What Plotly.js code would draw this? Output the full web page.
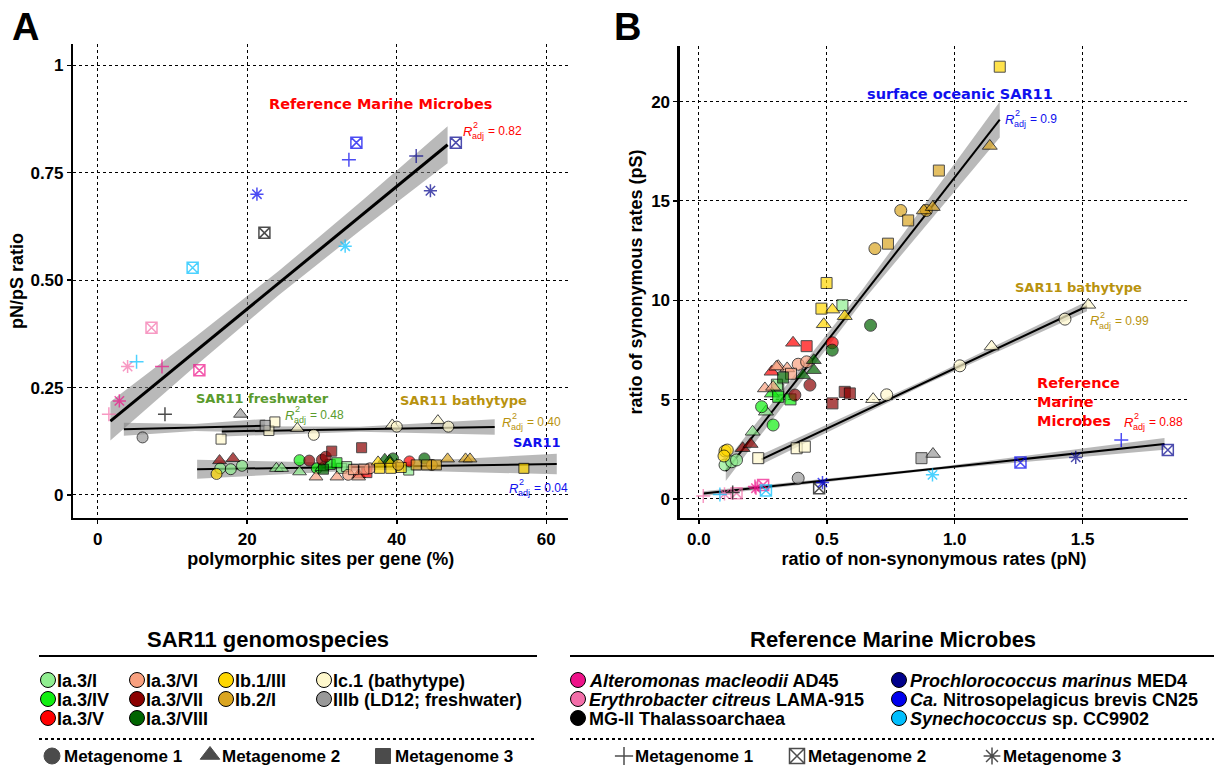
<!DOCTYPE html>
<html><head><meta charset="utf-8">
<script src="https://cdn.plot.ly/plotly-3.0.1.min.js"></script>
<style>html,body{margin:0;padding:0;background:#fff}#chart{width:1216px;height:766px}</style>
</head><body><div id="chart"></div>
<script>
// ===== Panel A rows: [polymorphic sites per gene (%), pN/pS ratio, metagenome] =====
const ia3I_A    = [[16.4,0.062,1],[17.8,0.060,1],[19.3,0.068,1],[23.9,0.062,2],[24.6,0.062,2],[27.0,0.054,2],[32.6,0.062,3],[33.3,0.066,3],[41.6,0.058,3]];
const ia3IV_A   = [[27.0,0.081,1],[29.3,0.062,1],[30.0,0.064,2],[31.1,0.071,3],[32.0,0.075,3]];
const ia3V_A    = [[41.7,0.078,1],[34.9,0.047,2],[36.0,0.052,3]];
const ia3VI_A   = [[36.4,0.062,1],[33.5,0.047,1],[29.2,0.042,2],[32.0,0.042,2],[34.9,0.042,2],[34.2,0.059,3],[35.6,0.060,3]];
const ia3VII_A  = [[28.3,0.080,1],[30.0,0.082,1],[30.5,0.089,1],[16.3,0.080,2],[18.1,0.085,2],[31.3,0.102,3],[35.3,0.110,3]];
const ia3VIII_A = [[39.5,0.085,1],[43.7,0.085,1],[38.4,0.083,2],[39.0,0.080,2],[30.2,0.060,3]];
const ib1III_A  = [[15.9,0.049,1],[37.5,0.077,2],[39.1,0.074,2],[37.7,0.062,3],[39.2,0.062,3],[40.6,0.064,3],[57.0,0.062,3]];
const ib2I_A    = [[40.2,0.070,1],[44.7,0.070,1],[42.6,0.070,3],[44.0,0.070,3],[45.3,0.070,3],[46.8,0.084,2],[49.2,0.084,2],[49.8,0.084,2]];
const ic1_A     = [[16.5,0.130,3],[22.9,0.150,3],[23.7,0.170,3],[26.7,0.155,2],[28.9,0.140,1],[39.4,0.163,2],[40.0,0.159,1],[45.5,0.173,2],[46.9,0.159,1]];
const iiib_A    = [[6.0,0.134,1],[19.1,0.188,2],[22.4,0.162,3]];
const altero_A  = [[8.6,0.299,1],[13.6,0.290,2],[2.9,0.219,3]];
const eryth_A   = [[1.5,0.188,1],[7.2,0.389,2],[4.0,0.299,3]];
const mg2_A     = [[9.0,0.188,1],[22.3,0.610,2]];
const prochl_A  = [[42.6,0.789,1],[47.9,0.820,2],[44.5,0.708,3]];
const nitro_A   = [[33.6,0.780,1],[34.6,0.820,2],[21.3,0.700,3]];
const syn_A     = [[5.2,0.310,1],[12.7,0.529,2],[33.1,0.579,3]];

// ===== Panel B rows: [pN, pS, metagenome] =====
const ia3I_B    = [[0.102,1.71,1],[0.128,1.87,1],[0.147,1.96,1],[0.210,3.38,2],[0.262,4.39,2],[0.310,5.51,3],[0.305,5.75,3],[0.561,9.75,3]];
const ia3IV_B   = [[0.245,4.64,1],[0.290,3.72,1],[0.285,5.30,2],[0.310,5.14,3],[0.358,5.01,3]];
const ia3V_B    = [[0.521,7.86,1],[0.368,7.86,2],[0.284,6.40,2],[0.421,7.69,3]];
const ia3VI_B   = [[0.388,6.78,1],[0.421,6.90,1],[0.310,6.68,2],[0.345,6.57,2],[0.258,5.56,2],[0.290,5.64,2],[0.303,6.65,2],[0.360,6.30,3]];
const ia3VII_B  = [[0.375,5.23,1],[0.434,5.73,1],[0.171,2.55,2],[0.202,2.76,2],[0.522,4.81,3],[0.570,5.39,3],[0.590,5.31,3]];
const ia3VIII_B = [[0.671,8.74,1],[0.521,7.49,1],[0.449,6.98,2],[0.449,6.48,2],[0.407,6.23,2],[0.329,6.11,3]];
const ib1III_B  = [[0.102,2.41,1],[0.111,2.46,1],[0.098,2.16,1],[0.522,9.53,2],[0.570,9.20,2],[0.488,8.79,2],[0.499,10.87,3],[0.479,9.58,3],[1.176,21.76,3]];
const ib2I_B    = [[0.889,14.52,1],[0.789,14.52,1],[0.688,12.60,1],[1.137,17.77,2],[0.879,14.52,2],[0.914,14.69,2],[0.938,16.53,3],[0.818,14.02,3],[0.739,12.85,3]];
const ic1_B     = [[0.232,2.05,3],[0.382,2.55,3],[0.414,2.63,3],[0.681,5.02,2],[0.734,5.24,1],[1.020,6.70,1],[1.144,7.67,2],[1.431,9.05,1],[1.522,9.77,2]];
const iiib_B    = [[0.388,1.04,1],[0.915,2.26,2],[0.870,2.05,3]];
const altero_B  = [[0.219,0.62,1],[0.251,0.70,2],[0.223,0.54,3]];
const eryth_B   = [[0.017,0.15,1],[0.147,0.29,2],[0.100,0.25,3]];
const mg2_B     = [[0.132,0.32,1],[0.470,0.54,2]];
const prochl_B  = [[1.833,2.46,2],[1.473,2.09,3]];
const nitro_B   = [[1.651,2.96,1],[1.257,1.83,2],[0.483,0.82,3]];
const syn_B     = [[0.082,0.22,1],[0.262,0.42,2],[0.913,1.21,3]];

// ===== Regression fits: x, fitted y, half-width of the band =====
const fitA_ref_x   = [1.7, 13.0, 24.2, 35.5, 46.8];
const fitA_ref_y   = [0.172, 0.333, 0.493, 0.654, 0.815];
const fitA_ref_hw  = [0.045, 0.034, 0.028, 0.033, 0.043];
const fitA_fresh_x = [3.5, 13.0, 22.4];
const fitA_fresh_y = [0.153, 0.157, 0.161];
const fitA_fresh_hw= [0.015, 0.008, 0.016];
const fitA_bathy_x = [16.6, 35.0, 53.1];
const fitA_bathy_y = [0.148, 0.153, 0.158];
const fitA_bathy_hw= [0.012, 0.006, 0.018];
const fitA_sar_x   = [13.3, 37.0, 61.4];
const fitA_sar_y   = [0.060, 0.066, 0.072];
const fitA_sar_hw  = [0.022, 0.007, 0.024];
const fitB_surf_x  = [0.105, 0.640, 1.176];
const fitB_surf_y  = [1.40, 10.25, 19.10];
const fitB_surf_hw = [0.50, 0.30, 0.90];
const fitB_bathy_x = [0.245, 0.880, 1.517];
const fitB_bathy_y = [1.99, 5.85, 9.70];
const fitB_bathy_hw= [0.25, 0.12, 0.25];
const fitB_ref_x   = [0.017, 0.920, 1.820];
const fitB_ref_y   = [0.27, 1.52, 2.77];
const fitB_ref_hw  = [0.12, 0.06, 0.30];

// ===== Axis ticks =====
const xTicksA = [0, 20, 40, 60];
const yTicksA = [0, 0.25, 0.5, 0.75, 1];
const yTickTextA = ['0', '0.25', '0.50', '0.75', '1'];
const xTicksB = [0, 0.5, 1.0, 1.5];
const xTickTextB = ['0.0', '0.5', '1.0', '1.5'];
const yTicksB = [0, 5, 10, 15, 20];

// ===== Legend categories =====
const sarNames  = ['Ia.3/I','Ia.3/IV','Ia.3/V','Ia.3/VI','Ia.3/VII','Ia.3/VIII','Ib.1/III','Ib.2/I','Ic.1 (bathytype)','IIIb (LD12; freshwater)'];
const sarColors = ['#90ee90','#11ee11','#ff0000','#f9a07f','#8b0000','#006400','#ffd700','#daa520','#fff8cc','#999999'];
const refNames  = ['<i>Alteromonas macleodii</i> AD45','<i>Erythrobacter citreus</i> LAMA-915','MG-II Thalassoarchaea','<i>Prochlorococcus marinus</i> MED4','<i>Ca.</i> Nitrosopelagicus brevis CN25','<i>Synechococcus</i> sp. CC9902'];
const refColors = ['#ee1289','#f36ea9','#000000','#00008b','#0000ee','#00bfff'];
const metaNames = ['Metagenome 1','Metagenome 2','Metagenome 3'];

const sarA = [ia3I_A, ia3IV_A, ia3V_A, ia3VI_A, ia3VII_A, ia3VIII_A, ib1III_A, ib2I_A, ic1_A, iiib_A];
const sarB = [ia3I_B, ia3IV_B, ia3V_B, ia3VI_B, ia3VII_B, ia3VIII_B, ib1III_B, ib2I_B, ic1_B, iiib_B];
const refA = [altero_A, eryth_A, mg2_A, prochl_A, nitro_A, syn_A];
const refB = [altero_B, eryth_B, mg2_B, prochl_B, nitro_B, syn_B];

const W = 1216, H = 766;
const PX = p => p / W, PY = p => 1 - p / H;
const SAR_SYM = ['circle','triangle-up','square'];
const REF_SYM = ['cross-thin-open','square-x-open','asterisk-open'], REF_SIZE = [10, 11, 11];

function sarTrace(rows, color, xa, ya, sizes) {
  return {type:'scatter', mode:'markers', xaxis:xa, yaxis:ya, showlegend:false, hoverinfo:'skip',
    x: rows.map(r => r[0]), y: rows.map(r => r[1]),
    marker:{color:color, symbol: rows.map(r => SAR_SYM[r[2]-1]), size: rows.map(r => sizes[r[2]-1]), line:{color:'#000', width:1}}};
}
function refTrace(rows, color, xa, ya) {
  return {type:'scatter', mode:'markers', xaxis:xa, yaxis:ya, showlegend:false, hoverinfo:'skip',
    x: rows.map(r => r[0]), y: rows.map(r => r[1]),
    marker:{color:color, symbol: rows.map(r => REF_SYM[r[2]-1]), size: rows.map(r => REF_SIZE[r[2]-1]), line:{color:color, width:1.5}}};
}
function bandTrace(xs, ys, hw, xa, ya) {
  const up = ys.map((v, i) => v + hw[i]), lo = ys.map((v, i) => v - hw[i]);
  return {type:'scatter', mode:'lines', xaxis:xa, yaxis:ya, showlegend:false, hoverinfo:'skip',
    x: xs.concat(xs.slice().reverse()), y: up.concat(lo.slice().reverse()),
    fill:'toself', fillcolor:'rgba(128,128,128,0.55)', line:{width:0}};
}
function lineTrace(xs, ys, xa, ya, w) {
  return {type:'scatter', mode:'lines', xaxis:xa, yaxis:ya, showlegend:false, hoverinfo:'skip',
    x: xs, y: ys, line:{color:'#000', width:w}};
}

const traces = [];
traces.push(bandTrace(fitA_fresh_x, fitA_fresh_y, fitA_fresh_hw, 'x', 'y'));
traces.push(bandTrace(fitA_bathy_x, fitA_bathy_y, fitA_bathy_hw, 'x', 'y'));
traces.push(bandTrace(fitA_sar_x, fitA_sar_y, fitA_sar_hw, 'x', 'y'));
traces.push(bandTrace(fitA_ref_x, fitA_ref_y, fitA_ref_hw, 'x', 'y'));
traces.push(bandTrace(fitB_surf_x, fitB_surf_y, fitB_surf_hw, 'x2', 'y2'));
traces.push(bandTrace(fitB_bathy_x, fitB_bathy_y, fitB_bathy_hw, 'x2', 'y2'));
traces.push(bandTrace(fitB_ref_x, fitB_ref_y, fitB_ref_hw, 'x2', 'y2'));
traces.push(lineTrace(fitA_fresh_x, fitA_fresh_y, 'x', 'y', 2));
traces.push(lineTrace(fitA_bathy_x, fitA_bathy_y, 'x', 'y', 2));
traces.push(lineTrace(fitA_sar_x, fitA_sar_y, 'x', 'y', 2));
traces.push(lineTrace(fitA_ref_x, fitA_ref_y, 'x', 'y', 3));
traces.push(lineTrace(fitB_surf_x, fitB_surf_y, 'x2', 'y2', 2));
traces.push(lineTrace(fitB_bathy_x, fitB_bathy_y, 'x2', 'y2', 2));
traces.push(lineTrace(fitB_ref_x, fitB_ref_y, 'x2', 'y2', 2));
sarA.forEach((rows, i) => traces.push(sarTrace(rows, sarColors[i], 'x', 'y', [11, 12, 10])));
sarB.forEach((rows, i) => traces.push(sarTrace(rows, sarColors[i], 'x2', 'y2', [12, 13, 11])));
refA.forEach((rows, i) => traces.push(refTrace(rows, refColors[i], 'x', 'y')));
refB.forEach((rows, i) => traces.push(refTrace(rows, refColors[i], 'x2', 'y2')));

// ===== Legend (drawn on a pixel-based helper axis) =====
const annotations = [];
const shapes = [];
const legFont = {family:'Liberation Sans, Arial', size:18, color:'#000', weight:'bold'};
const metaFont = {family:'Liberation Sans, Arial', size:17, color:'#000', weight:'bold'};
const sarColX = [48, 137, 226, 324], rowY = [680, 699, 718];
const sarCell = [[0,0],[0,1],[0,2],[1,0],[1,1],[1,2],[2,0],[2,1],[3,0],[3,1]];
const legSarX = [], legSarY = [];
sarCell.forEach((c, i) => {
  legSarX.push(sarColX[c[0]]); legSarY.push(rowY[c[1]]);
  annotations.push({xref:'paper', yref:'paper', x:PX(sarColX[c[0]] + 7), y:PY(rowY[c[1]] + 1), xanchor:'left', yanchor:'middle',
    text:sarNames[i], showarrow:false, font:legFont});
});
traces.push({type:'scatter', mode:'markers', xaxis:'x3', yaxis:'y3', showlegend:false, hoverinfo:'skip',
  x:legSarX, y:legSarY, marker:{symbol:'circle', size:15, color:sarColors, line:{color:'#000', width:1}}});
const metaLX = [52, 210, 383];
traces.push({type:'scatter', mode:'markers', xaxis:'x3', yaxis:'y3', showlegend:false, hoverinfo:'skip',
  x:metaLX, y:[756,755,756], marker:{symbol:SAR_SYM, size:[16,17,15], color:'#000', line:{color:'#000', width:1}}});
metaNames.forEach((t, i) => annotations.push({xref:'paper', yref:'paper', x:PX(metaLX[i] + 10), y:PY(756), xanchor:'left', yanchor:'middle',
  text:t, showarrow:false, font:metaFont}));
annotations.push({xref:'paper', yref:'paper', x:PX(268), y:PY(639), xanchor:'center', yanchor:'middle', text:'SAR11 genomospecies',
  showarrow:false, font:Object.assign({}, legFont, {size:22})});
shapes.push({type:'line', xref:'paper', yref:'paper', x0:PX(39), x1:PX(537), y0:PY(656), y1:PY(656), line:{color:'#000', width:2}});
shapes.push({type:'line', xref:'paper', yref:'paper', x0:PX(39), x1:PX(537), y0:PY(739), y1:PY(739), line:{color:'#000', width:2, dash:'dot'}});

const refColX = [578, 899];
const refCell = [[0,0],[0,1],[0,2],[1,0],[1,1],[1,2]];
const legRefX = [], legRefY = [];
refCell.forEach((c, i) => {
  legRefX.push(refColX[c[0]]); legRefY.push(rowY[c[1]]);
  annotations.push({xref:'paper', yref:'paper', x:PX(refColX[c[0]] + 9), y:PY(rowY[c[1]] + 1), xanchor:'left', yanchor:'middle',
    text:refNames[i], showarrow:false, font:legFont});
});
traces.push({type:'scatter', mode:'markers', xaxis:'x3', yaxis:'y3', showlegend:false, hoverinfo:'skip',
  x:legRefX, y:legRefY, marker:{symbol:'circle', size:15, color:refColors, line:{color:'#000', width:1}}});
const metaRX = [624, 797, 992];
traces.push({type:'scatter', mode:'markers', xaxis:'x3', yaxis:'y3', showlegend:false, hoverinfo:'skip',
  x:metaRX, y:[756,756,756], marker:{symbol:REF_SYM, size:[13,15,14], color:'#000', line:{color:'#000', width:1.5}}});
metaNames.forEach((t, i) => annotations.push({xref:'paper', yref:'paper', x:PX(metaRX[i] + 9), y:PY(756), xanchor:'left', yanchor:'middle',
  text:t, showarrow:false, font:metaFont}));
annotations.push({xref:'paper', yref:'paper', x:PX(893), y:PY(639), xanchor:'center', yanchor:'middle', text:'Reference Marine Microbes',
  showarrow:false, font:Object.assign({}, legFont, {size:22})});
shapes.push({type:'line', xref:'paper', yref:'paper', x0:PX(570), x1:PX(1214), y0:PY(656), y1:PY(656), line:{color:'#000', width:2}});
shapes.push({type:'line', xref:'paper', yref:'paper', x0:PX(570), x1:PX(1214), y0:PY(739), y1:PY(739), line:{color:'#000', width:2, dash:'dot'}});

// ===== In-plot labels =====
function label(xp, yp, text, color, size, anchor) {
  annotations.push({xref:'paper', yref:'paper', x:PX(xp), y:PY(yp), xanchor:anchor || 'center', yanchor:'middle',
    text:text, showarrow:false, align:'left', font:{family:'DejaVu Sans', size:size, color:color, weight:'bold'}});
}
function r2(xp, yp, val, color) {
  const f = (s) => ({family:'Liberation Sans, Arial', size:s, color:color});
  annotations.push({xref:'paper', yref:'paper', x:PX(xp), y:PY(yp), xanchor:'left', yanchor:'middle', text:'<i>R</i>', showarrow:false, font:f(13)});
  annotations.push({xref:'paper', yref:'paper', x:PX(xp+10), y:PY(yp-6), xanchor:'left', yanchor:'middle', text:'2', showarrow:false, font:f(9)});
  annotations.push({xref:'paper', yref:'paper', x:PX(xp+9), y:PY(yp+5), xanchor:'left', yanchor:'middle', text:'adj', showarrow:false, font:f(9)});
  annotations.push({xref:'paper', yref:'paper', x:PX(xp+25), y:PY(yp), xanchor:'left', yanchor:'middle', text:'= ' + val, showarrow:false, font:f(12)});
}
const RED = '#ff0000', GREEN = '#5a9b2d', GOLD = '#b8920e', BLUE = '#1010ee';
label(380, 104, 'Reference Marine Microbes', RED, 14.5);
r2(461, 131, '0.82', RED);
label(262, 398, 'SAR11 freshwater', GREEN, 13);
r2(283, 415, '0.48', GREEN);
label(463, 400, 'SAR11 bathytype', GOLD, 13);
r2(500, 422, '0.40', GOLD);
label(537, 443, 'SAR11', BLUE, 13);
r2(507, 488, '0.04', BLUE);
label(960, 94, 'surface oceanic SAR11', BLUE, 14.5);
r2(1003, 119, '0.9', BLUE);
label(1078, 287, 'SAR11 bathytype', GOLD, 13);
r2(1088, 321, '0.99', GOLD);
label(1035, 402, 'Reference<br>Marine<br>Microbes', RED, 14.5, 'left');
r2(1122, 422, '0.88', RED);
annotations.push({xref:'paper', yref:'paper', x:PX(25), y:PY(27), xanchor:'center', yanchor:'middle', text:'A', showarrow:false,
  font:{family:'Liberation Sans, Arial', size:38, color:'#000', weight:'bold'}});
annotations.push({xref:'paper', yref:'paper', x:PX(627), y:PY(27), xanchor:'center', yanchor:'middle', text:'B', showarrow:false,
  font:{family:'Liberation Sans, Arial', size:38, color:'#000', weight:'bold'}});

const tickFont = {family:'Liberation Sans, Arial', size:17, color:'#000', weight:'bold'};
const titleFont = {family:'Liberation Sans, Arial', size:18, color:'#000', weight:'bold'};
const axCommon = {showgrid:true, gridcolor:'#000', griddash:'dot', gridwidth:1, zeroline:false, showline:true, linecolor:'#000',
  linewidth:2.5, ticks:'outside', ticklen:4, tickwidth:1.5, tickcolor:'#000', tickfont:tickFont, tickmode:'array', fixedrange:true};

const layout = {
  width:W, height:H, margin:{l:0, r:0, t:0, b:0}, paper_bgcolor:'#fff', plot_bgcolor:'rgba(0,0,0,0)', showlegend:false,
  xaxis: Object.assign({}, axCommon, {domain:[0.0604, 0.4671], range:[-3.24, 62.9], anchor:'y', tickvals:xTicksA,
    title:{text:'polymorphic sites per gene (%)', font:titleFont, standoff:5}}),
  yaxis: Object.assign({}, axCommon, {domain:[0.3238, 0.9426], range:[-0.0535, 1.0496], anchor:'x', tickvals:yTicksA, ticktext:yTickTextA,
    title:{text:'pN/pS ratio', font:titleFont, standoff:2}}),
  xaxis2: Object.assign({}, axCommon, {domain:[0.5592, 0.9770], range:[-0.074, 1.912], anchor:'y2', tickvals:xTicksB, ticktext:xTickTextB,
    title:{text:'ratio of non-synonymous rates (pN)', font:titleFont, standoff:5}}),
  yaxis2: Object.assign({}, axCommon, {domain:[0.3238, 0.9399], range:[-0.96, 22.8], anchor:'x2', tickvals:yTicksB,
    title:{text:'ratio of synonymous rates (pS)', font:titleFont, standoff:4}}),
  xaxis3: {domain:[0, 1], range:[0, W], anchor:'y3', visible:false, fixedrange:true},
  yaxis3: {domain:[0, 146/H], range:[H, 620], anchor:'x3', visible:false, fixedrange:true},
  annotations: annotations, shapes: shapes
};
Plotly.newPlot('chart', traces, layout, {displayModeBar:false, staticPlot:true});
</script></body></html>
